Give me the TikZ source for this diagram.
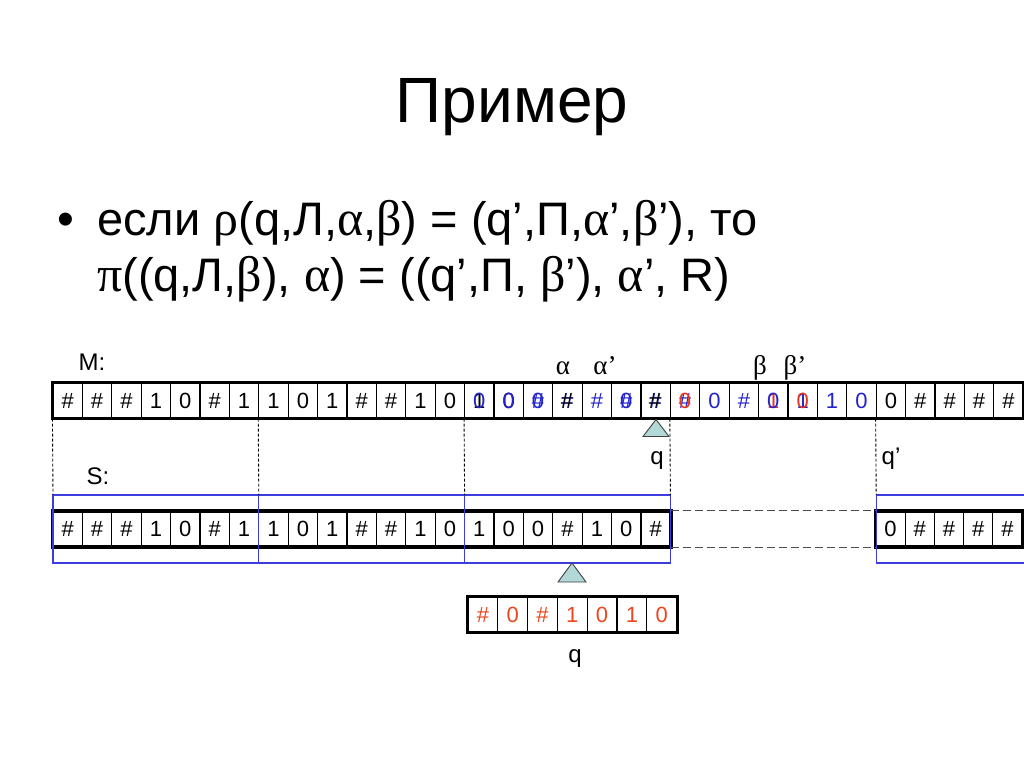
\documentclass[tikz,border=0pt]{standalone}
\usepackage{fontspec}
\setmainfont{Liberation Sans}
\newfontfamily\grk{Liberation Serif}
\definecolor{tblue}{RGB}{35,35,205}
\definecolor{tred}{RGB}{230,50,30}
\definecolor{sred}{RGB}{235,70,30}
\definecolor{boxblue}{RGB}{60,60,225}
\definecolor{headfill}{RGB}{178,216,216}
\begin{document}
\begin{tikzpicture}[x=1pt,y=-1pt,
  cell/.style={draw,line width=1.1pt,minimum width=29.4pt,minimum height=35pt,inner sep=0pt,font=\fontsize{22}{22}\selectfont},
  ov/.style={inner sep=0pt,font=\fontsize{22}{22}\selectfont},
  lbl/.style={inner sep=0pt,font=\fontsize{24}{24}\selectfont},
  glbl/.style={inner sep=0pt,font=\grk\fontsize{27}{27}\selectfont},
  tapeborder/.style={line width=3.2pt},
  bbox/.style={draw=boxblue,line width=1.1pt},
  vdash/.style={black,line width=0.9pt,dash pattern=on 3pt off 2pt},
  hdash/.style={black!70,line width=1pt,dash pattern=on 8pt off 4pt},
  head/.style={fill=headfill,draw=black!75,line width=0.9pt}]
\useasboundingbox (0,0) rectangle (1024,767);
% title and text
\node[anchor=base,inner sep=0pt,font=\fontsize{64}{64}\selectfont] (title) at (512,123) {Пример};
\node[anchor=base west,inner sep=0pt,font=\fontsize{48}{48}\selectfont] (bul) at (57,236) {•};
\node[anchor=base west,inner sep=0pt,font=\fontsize{47}{47}\selectfont] (line1) at (97,236) {если {\grk\fontsize{50}{50}\selectfont ρ}(q,Л,{\grk\fontsize{50}{50}\selectfont α},{\grk\fontsize{50}{50}\selectfont β}) = (q’,П,{\grk\fontsize{50}{50}\selectfont α}’,{\grk\fontsize{50}{50}\selectfont β}’), то};
\node[anchor=base west,inner sep=0pt,font=\fontsize{47}{47}\selectfont] (line2) at (97,291) {{\grk\fontsize{50}{50}\selectfont π}((q,Л,{\grk\fontsize{50}{50}\selectfont β}), {\grk\fontsize{50}{50}\selectfont α}) = ((q’,П, {\grk\fontsize{50}{50}\selectfont β}’), {\grk\fontsize{50}{50}\selectfont α}’, R)};
% M tape
\foreach \t/\c [count=\i from 0] in {\#/black,\#/black,\#/black,1/black,0/black,\#/black,1/black,1/black,0/black,1/black,\#/black,\#/black,1/black,0/black,1/black,0/black,\#/tblue,\#/tblue,\#/tblue,\#/tblue,\#/tblue,\#/tblue,0/tblue,\#/tblue,1/tred,1/tblue,1/tblue,0/tblue,0/black,\#/black,\#/black,\#/black,\#/black}
  \node[cell,text=\c] (m\i) at ({53+29.4*(\i+0.5)},400.5) {\t};
\node[ov,text=tblue] (o14) at (m14) {0};
\node[ov,text=tblue] (o15) at (m15) {0};
\node[ov,text=tblue] (o16) at (m16) {0};
\node[ov,text=black] (o17) at ([xshift=-0.6pt]m17.center) {\#};
\node[ov,text=tblue] (o19) at (m19) {0};
\node[ov,text=black] (o20) at ([xshift=-0.6pt]m20.center) {\#};
\node[ov,text=tred] (o21) at (m21) {0};
\node[ov,text=tblue] (o24) at (m24) {0};
\node[ov,text=tred] (o25) at (m25) {0};
\draw[tapeborder] (m0.north west) rectangle (m32.south east);
% S tape
\foreach \t [count=\i from 0] in {\#,\#,\#,1,0,\#,1,1,0,1,\#,\#,1,0,1,0,0,\#,1,0,\#}
  \node[cell] (s\i) at ({53+29.4*(\i+0.5)},529) {\t};
\draw[tapeborder] (s0.north west) rectangle (s20.south east);
\foreach \t [count=\i from 0] in {0,\#,\#,\#,\#}
  \node[cell,minimum width=29.2pt] (t\i) at ({876+29.2*(\i+0.5)},529) {\t};
\draw[tapeborder] (t0.north west) rectangle (t4.south east);
% state tape
\foreach \t [count=\i from 0] in {\#,0,\#,1,0,1,0}
  \node[cell,text=sred,minimum width=29.8pt] (r\i) at ({468+29.8*(\i+0.5)},614.5) {\t};
\draw[tapeborder] (r0.north west) rectangle (r6.south east);
% blue boxes
\draw[bbox] (53,495) rectangle (258.8,563);
\draw[bbox] (258.8,495) rectangle (464.6,563);
\draw[bbox] (464.6,495) rectangle (670.4,563);
\draw[bbox] (1024,495) -- (876.2,495) -- (876.2,563) -- (1024,563);
% dashed verticals
\foreach \k/\j in {0/0,7/1,14/2,21/3,28/4}{
  \coordinate (b\j) at ({53+29.4*\k},495);
  \draw[vdash] (m\k.south west) -- (b\j);
}
% dashed horizontals
\draw[hdash] (s20.north east) -- (t0.north west);
\draw[hdash] (s20.south east) -- (t0.south west);
% heads
\coordinate (hm) at (656,419.5);
\draw[head] (hm) -- ++(-13,17) -- ++(26,0) -- cycle;
\coordinate (hs) at (572,563);
\draw[head] (hs) -- ++(-14,19) -- ++(28,0) -- cycle;
% labels
\node[lbl,anchor=base] (lM) at (92,370) {M:};
\node[lbl,anchor=base] (lS) at (98,484) {S:};
\node[lbl,anchor=base] (lq1) at (657,464) {q};
\node[lbl,anchor=base] (lq2) at (891,464) {q’};
\node[lbl,anchor=base] (lq3) at (575,662) {q};
\node[glbl,anchor=base] (la) at (563,374) {α};
\node[glbl,anchor=base] (la2) at (605,374) {α’};
\node[glbl,anchor=base] (lb) at (760,374) {β};
\node[glbl,anchor=base] (lb2) at (795,374) {β’};
\end{tikzpicture}
\end{document}
